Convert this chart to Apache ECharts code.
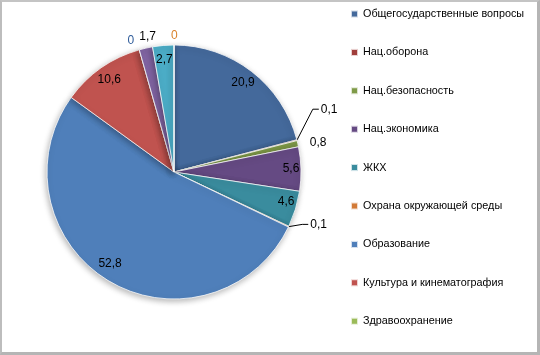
<!DOCTYPE html>
<html>
<head>
<meta charset="utf-8">
<script src="https://cdn.jsdelivr.net/npm/echarts@6/dist/echarts.min.js"></script>
<style>
  html, body { margin: 0; padding: 0; background: #fff; }
  #frame {
    width: 540px; height: 355px; box-sizing: border-box;
    border-left: 2px solid #bdbdbd; border-top: 2px solid #c4c4c4;
    border-right: 3px solid #b5b5b5; border-bottom: 3px solid #b5b5b5;
  }
  #container { width: 535px; height: 350px; }
</style>
</head>
<body>
<div id="frame"><div id="container"></div></div>
<script>
var categories = [
  'Общегосударственные вопросы', 'Нац.оборона', 'Нац.безопасность', 'Нац.экономика',
  'ЖКХ', 'Охрана окружающей среды', 'Образование', 'Культура и кинематография',
  'Здравоохранение', 'Социальная политика', 'Физическая культура и спорт',
  'Средства массовой информации'
];
var values = [20.9, 0.1, 0.8, 5.6, 4.6, 0.1, 52.8, 10.6, 0, 1.7, 2.7, 0];
// only the first nine names fit into the legend
var legendNames = categories.slice(0, 9);

var colors = ['#44699B', '#A03E3B', '#7F9A48', '#654A83', '#3A8C9E', '#D27A36',
  '#4F7FBA', '#C0534F', '#9BBB59', '#8064A2', '#4BACC6', '#F79646'];

var dom = document.getElementById('container');
var myChart = echarts.init(dom, null, { renderer: 'canvas' });

var fmt = function (p) { return String(p.value).replace('.', ','); };
var labelFont = { fontFamily: 'Liberation Sans', fontSize: 12, color: '#000' };

// labels drawn outside the pie (small slices) and their nudges
var outside = { 1: 1, 2: 1, 5: 1, 8: 1, 9: 1, 11: 1 };
var outsideColor = { 8: '#2F5C9A', 11: '#D9822B' };
var nudge = {
  1: [16, -30], 2: [4, 0], 5: [14, -4],
  8: [0, -5], 9: [15, -8], 11: [-7, -5]
};
var innerNudge = { 3: [4, -1], 4: [4, -3], 6: [-6, -5] };

var mainData = values.map(function (v, i) {
  var item = { name: categories[i], value: v, itemStyle: { color: colors[i] } };
  if (outside[i]) {
    item.label = { show: true, color: outsideColor[i] || '#000' };
    item.labelLine = { show: i === 1 || i === 5 };
  }
  return item;
});
var innerData = values.map(function (v, i) {
  return { name: categories[i], value: v, label: { show: !outside[i] } };
});

var option = {
  color: colors,
  animation: false,
  legend: {
    orient: 'vertical',
    left: 348,
    top: 5,
    padding: 0,
    data: legendNames,
    icon: 'rect',
    itemWidth: 7,
    itemHeight: 7,
    itemGap: 24.4,
    textStyle: { fontFamily: 'Liberation Sans', fontSize: 10.8, color: '#000', lineHeight: 14 }
  },
  series: [
    {
      type: 'pie',
      center: [172, 170],
      radius: 127,
      startAngle: 90,
      clockwise: true,
      avoidLabelOverlap: false,
      itemStyle: {
        borderColor: 'rgba(255,255,255,0.75)',
        borderWidth: 1,
        shadowBlur: 6,
        shadowOffsetX: -1,
        shadowOffsetY: 2,
        shadowColor: 'rgba(0,0,0,0.3)'
      },
      label: Object.assign({ show: false, position: 'outside', formatter: fmt, distanceToLabelLine: 2 }, labelFont),
      labelLine: { show: false, length: 4, length2: 2, lineStyle: { color: '#000', width: 1 } },
      labelLayout: function (p) {
        var n = nudge[p.dataIndex];
        if (!n) return {};
        var out = { dx: n[0], dy: n[1] };
        var pts = p.labelLinePoints;
        if (pts && pts.length === 3) {
          out.labelLinePoints = [
            pts[0],
            [pts[1][0] + n[0] - 4, pts[1][1] + n[1]],
            [pts[2][0] + n[0], pts[2][1] + n[1]]
          ];
        }
        return out;
      },
      emphasis: { scale: false },
      data: mainData
    },
    {
      type: 'pie',
      center: [172, 170],
      radius: [93, 127],
      startAngle: 90,
      clockwise: true,
      silent: true,
      itemStyle: { color: 'rgba(0,0,0,0)' },
      label: Object.assign({ position: 'inside', formatter: fmt }, labelFont),
      labelLine: { show: false },
      labelLayout: function (p) {
        var n = innerNudge[p.dataIndex];
        return n ? { dx: n[0], dy: n[1] } : {};
      },
      data: innerData
    }
  ]
};

myChart.setOption(option);
window.addEventListener('resize', myChart.resize);
</script>
</body>
</html>
